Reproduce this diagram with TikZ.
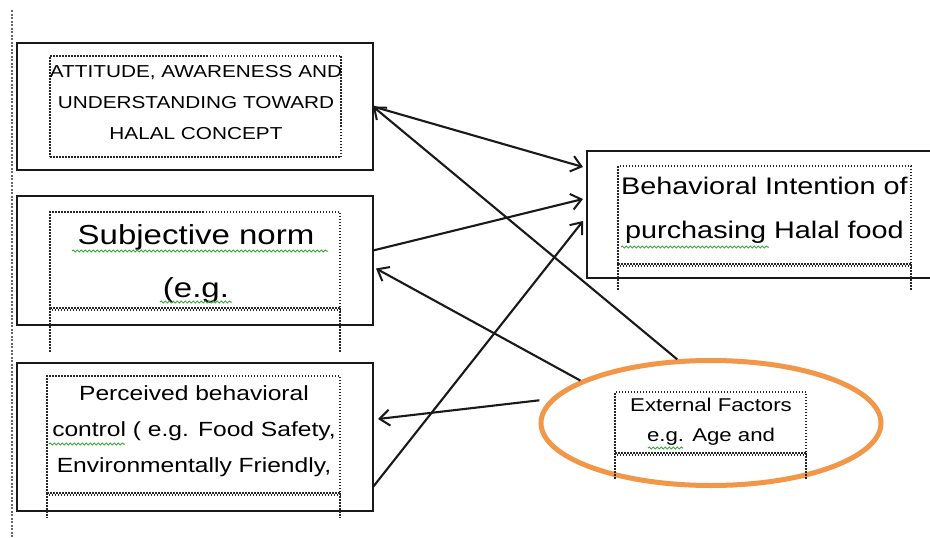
\documentclass[tikz,border=0pt]{standalone}
\usepackage{fontspec}
\setmainfont{Liberation Sans}
\newfontfamily\wfont[FakeStretch=1.2]{Liberation Sans}
\usetikzlibrary{arrows.meta,calc,shapes.geometric,decorations.pathmorphing}
\definecolor{ellorange}{RGB}{242,150,72}
\definecolor{squiggreen}{RGB}{60,170,60}
\begin{document}
\begin{tikzpicture}[x=1pt,y=-1pt,
  outerbox/.style={draw=black!90, line width=2.2pt, rectangle, inner sep=0pt, outer sep=0pt},
  innerbox/.style={draw=black!85, line width=1.5pt, dash pattern=on 1.5pt off 1.5pt, rectangle, inner sep=0pt, outer sep=0pt},
  dotline/.style={draw=black!85, line width=1.5pt, dash pattern=on 1.5pt off 1.5pt},
  lbl/.style={align=center, inner sep=0pt, text=black},
  arr/.style={-{Straight Barb[length=10pt,width=16pt,line width=2pt]}, line width=2.1pt, black!90},
  squig/.style={draw=squiggreen, line width=1pt, decorate, decoration={snake, amplitude=1pt, segment length=4pt}}
]
\useasboundingbox (0,0) rectangle (930,538);
\fill[white] (0,0) rectangle (930,538);

% left margin dotted rule
\draw[draw=black!60, line width=2.5pt, dash pattern=on 2pt off 1.5pt] (12,10) -- (12,538);

% outer boxes
\node[outerbox, minimum width=356pt, minimum height=127pt] (b1) at (195,106.5) {};
\node[outerbox, minimum width=356pt, minimum height=129pt] (b2) at (195,260.5) {};
\node[outerbox, minimum width=356pt, minimum height=148pt] (b3) at (195,437) {};
\node[rectangle, inner sep=0pt, outer sep=0pt, minimum width=348pt, minimum height=127pt] (b4) at (761,214.5) {};
\draw[line width=2.2pt, black!90] (b4.north east) -- (b4.north west) -- (b4.south west) -- (b4.south east);
\node[ellipse, draw=ellorange, line width=5pt, minimum width=340pt, minimum height=125pt, inner sep=0pt] (ell) at (711,423) {};

% inner dotted frames
\node[innerbox, minimum width=291pt, minimum height=101pt] (i1) at (195.5,106.5) {};
\node[innerbox, minimum width=290pt, minimum height=96pt] (i2) at (195,260) {};
\node[innerbox, minimum width=293pt, minimum height=117pt] (i3) at (193.5,434.5) {};
\node[innerbox, minimum width=293pt, minimum height=98pt] (i4) at (764.5,215) {};
\node[innerbox, minimum width=191pt, minimum height=61pt] (i5) at (710.5,422.5) {};

% doubled bottoms and downward extensions
\foreach \n/\ext in {i2/45, i3/25, i4/27, i5/27}{
  \draw[dotline, dash phase=1.5pt] ($(\n.south west)+(0,2)$) -- ($(\n.south east)+(0,2)$);
  \draw[dotline] (\n.south west) -- ++(0,\ext);
  \draw[dotline] (\n.south east) -- ++(0,\ext);
}

% texts
\node[lbl, font=\wfont\fontsize{17.3}{31}\selectfont] (t1) at (196,103) {ATTITUDE, AWARENESS AND\\UNDERSTANDING TOWARD\\HALAL CONCEPT};
\node[lbl, font=\wfont\fontsize{27.5}{53}\selectfont] (t2) at (196,264) {Subjective norm\\(e.g.};
\node[lbl, font=\wfont\fontsize{20.5}{36}\selectfont] (t3) at (194,431) {Perceived behavioral\\control ( e.g. Food Safety,\\Environmentally Friendly,};
\node[lbl, font=\wfont\fontsize{24}{44}\selectfont] (t4) at (764.5,210) {Behavioral Intention of\\purchasing Halal food};
\node[lbl, font=\wfont\fontsize{18.5}{30}\selectfont] (t5) at (711,422) {External Factors\\e.g. Age and};

% spell-check squiggles
\draw[squig] (72,251) -- (328,251);
\draw[squig] (160,302) -- (232,302);
\draw[squig] (49,444) -- (125,444);
\draw[squig] (621,247) -- (769,247);
\draw[squig] (648,448) -- (683,448);

% connectors
\draw[arr] (ell.118) -- (b1.east);
\draw[arr] (b1.east) -- ($(b4.north west)+(-4,16)$);
\draw[arr] ($(b2.east)+(0,-10)$) -- ($(b4.north west)+(-4,48)$);
\draw[arr] ($(b3.south east)+(0,-24)$) -- ($(b4.north west)+(-4,70)$);
\draw[arr] (ell.162) -- ($(b2.east)+(3,8)$);
\draw[arr] ($(ell.172)+(-10,0)$) -- ($(b3.east)+(5,-18)$);
\end{tikzpicture}
\end{document}
